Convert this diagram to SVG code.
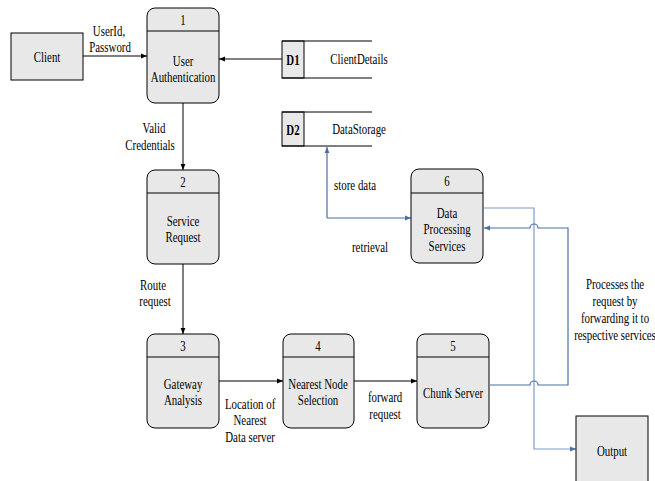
<svg xmlns="http://www.w3.org/2000/svg" width="655" height="481" viewBox="0 0 655 481">
  <defs>
    <marker id="arr" viewBox="0 0 8 8" refX="8" refY="4" markerWidth="6" markerHeight="6" orient="auto" markerUnits="userSpaceOnUse">
      <path d="M0,0.8 L8,4 L0,7.2 Z" fill="#000"/>
    </marker>
    <marker id="arrB" viewBox="0 0 8 8" refX="8" refY="4" markerWidth="6" markerHeight="6" orient="auto" markerUnits="userSpaceOnUse">
      <path d="M0,0.8 L8,4 L0,7.2 Z" fill="#4a6fa5"/>
    </marker>
  </defs>
  <style>
    text { font-family: "Liberation Serif", "Times New Roman", serif; font-size: 14.5px; fill: #000; text-anchor: middle;
           transform-box: fill-box; transform-origin: center; transform: scaleX(0.75); }
    .b { font-weight: bold; }
    .proc { fill: #e8e8e8; stroke: #000; stroke-width: 1; }
    .box { fill: #e8e8e8; stroke: #000; stroke-width: 1; }
    .ln { fill: none; stroke: #000; stroke-width: 1; }
    .flow { fill: none; stroke: #000; stroke-width: 1; marker-end: url(#arr); }
    .blue { fill: none; stroke: #4a6fa5; stroke-width: 1.2; }
    .blueL { fill: none; stroke: #7f9cc6; stroke-width: 1.2; }
  </style>
  <rect width="655" height="481" fill="#fff"/>

  <!-- connectors -->
  <g id="connectors">
    <line class="flow" x1="83" y1="56" x2="147" y2="56"/>
    <line class="flow" x1="282" y1="59" x2="219" y2="59"/>
    <line class="flow" x1="183" y1="103" x2="183" y2="170"/>
    <line class="flow" x1="183" y1="264" x2="183" y2="334"/>
    <line class="flow" x1="219" y1="381" x2="283" y2="381"/>
    <line class="flow" x1="354" y1="381" x2="417" y2="381"/>
    <!-- store / retrieve between D2 and process 6 -->
    <path class="blue" d="M327,218 L327,147" marker-end="url(#arrB)"/>
    <path class="blue" d="M327,218 L411,218" marker-end="url(#arrB)"/>
    <!-- process 6 to output -->
    <path class="blueL" d="M484,208 L534,208 L534,449 L576,449" marker-end="url(#arrB)"/>
    <!-- chunk server back to process 6, hopping over the vertical -->
    <path class="blue" d="M490,385 L530,385 A4,4 0 0 1 538,385 L568,385 L568,228 L538,228 A4,4 0 0 0 530,228 L484,228" marker-end="url(#arrB)"/>
  </g>

  <!-- external entity: Client -->
  <g id="client">
    <rect class="box" x="11" y="33" width="72" height="47"/>
    <text x="47" y="62">Client</text>
  </g>
  <g id="label-login">
    <text x="109" y="36">UserId,</text>
    <text x="110" y="52">Password</text>
  </g>

  <!-- process 1 -->
  <g id="p1">
    <rect class="proc" x="147" y="8" width="72" height="95" rx="8"/>
    <line class="ln" x1="147" y1="31" x2="219" y2="31"/>
    <text x="183" y="25">1</text>
    <text x="183" y="66">User</text>
    <text x="183" y="82">Authentication</text>
  </g>

  <!-- data store D1 -->
  <g id="d1">
    <rect class="box" x="282" y="41" width="22" height="37"/>
    <line class="ln" x1="282" y1="41" x2="372" y2="41"/>
    <line class="ln" x1="282" y1="78" x2="372" y2="78"/>
    <text class="b" x="293" y="65">D1</text>
    <text x="359" y="64">ClientDetails</text>
  </g>

  <!-- data store D2 -->
  <g id="d2">
    <rect class="box" x="282" y="112" width="22" height="34"/>
    <line class="ln" x1="282" y1="112" x2="372" y2="112"/>
    <line class="ln" x1="282" y1="146" x2="372" y2="146"/>
    <text class="b" x="293" y="135">D2</text>
    <text x="359" y="134">DataStorage</text>
  </g>

  <g id="label-valid">
    <text x="154" y="133">Valid</text>
    <text x="150" y="150">Credentials</text>
  </g>

  <!-- process 2 -->
  <g id="p2">
    <rect class="proc" x="147" y="170" width="72" height="94" rx="8"/>
    <line class="ln" x1="147" y1="193" x2="219" y2="193"/>
    <text x="183" y="187">2</text>
    <text x="183" y="226">Service</text>
    <text x="183" y="242">Request</text>
  </g>

  <g id="label-route">
    <text x="153" y="290">Route</text>
    <text x="155" y="306">request</text>
  </g>

  <g id="label-store">
    <text x="355" y="190">store data</text>
    <text x="370" y="252">retrieval</text>
  </g>

  <!-- process 6 -->
  <g id="p6">
    <rect class="proc" x="411" y="169" width="72" height="94" rx="8"/>
    <line class="ln" x1="411" y1="193" x2="483" y2="193"/>
    <text x="447" y="186">6</text>
    <text x="447" y="218">Data</text>
    <text x="447" y="234">Processing</text>
    <text x="447" y="251">Services</text>
  </g>

  <!-- process 3 -->
  <g id="p3">
    <rect class="proc" x="147" y="334" width="72" height="94" rx="8"/>
    <line class="ln" x1="147" y1="357" x2="219" y2="357"/>
    <text x="183" y="351">3</text>
    <text x="183" y="389">Gateway</text>
    <text x="183" y="405">Analysis</text>
  </g>

  <!-- process 4 -->
  <g id="p4">
    <rect class="proc" x="283" y="334" width="71" height="94" rx="8"/>
    <line class="ln" x1="283" y1="357" x2="354" y2="357"/>
    <text x="318" y="351">4</text>
    <text x="318" y="389">Nearest Node</text>
    <text x="318" y="405">Selection</text>
  </g>

  <!-- process 5 -->
  <g id="p5">
    <rect class="proc" x="417" y="334" width="72" height="94" rx="8"/>
    <line class="ln" x1="417" y1="357" x2="489" y2="357"/>
    <text x="453" y="351">5</text>
    <text x="453" y="398">Chunk Server</text>
  </g>

  <g id="label-location">
    <text x="250" y="409">Location of</text>
    <text x="250" y="425">Nearest</text>
    <text x="250" y="442">Data server</text>
  </g>

  <g id="label-forward">
    <text x="385" y="402">forward</text>
    <text x="385" y="419">request</text>
  </g>

  <g id="label-processes">
    <text x="615" y="289">Processes the</text>
    <text x="615" y="306">request by</text>
    <text x="615" y="323">forwarding it to</text>
    <text x="615" y="340">respective services</text>
  </g>

  <!-- external entity: Output -->
  <g id="output">
    <rect class="box" x="576" y="416" width="72" height="70"/>
    <text x="612" y="456">Output</text>
  </g>
</svg>
